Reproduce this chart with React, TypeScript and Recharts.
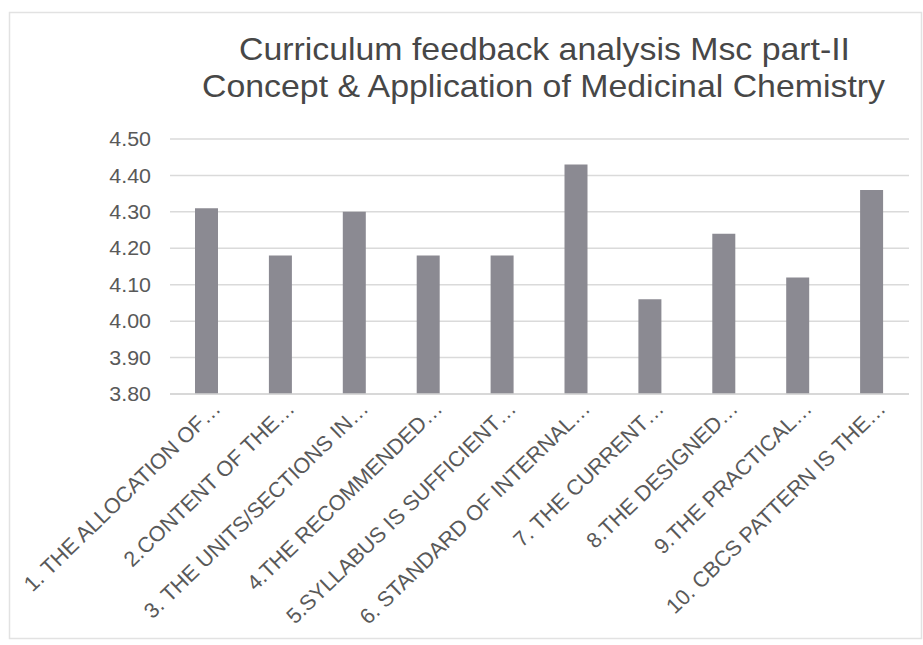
import React from 'react';
import { BarChart, Bar, XAxis, YAxis, CartesianGrid } from 'recharts';

const categories = [
  '1. THE ALLOCATION OF…',
  '2.CONTENT OF THE…',
  '3. THE UNITS/SECTIONS IN…',
  '4.THE RECOMMENDED…',
  '5.SYLLABUS IS SUFFICIENT…',
  '6. STANDARD OF INTERNAL…',
  '7. THE CURRENT…',
  '8.THE DESIGNED…',
  '9.THE PRACTICAL…',
  '10. CBCS PATTERN IS THE…',
];
const scores = [4.31, 4.18, 4.3, 4.18, 4.18, 4.43, 4.06, 4.24, 4.12, 4.36];
const yTicks = [3.8, 3.9, 4.0, 4.1, 4.2, 4.3, 4.4, 4.5];
const titleLines = [
  'Curriculum feedback analysis Msc part-II',
  'Concept & Application of Medicinal Chemistry',
];

const data = categories.map((name, i) => ({ name, value: scores[i] }));

const FONT = '"Liberation Sans", Arial, sans-serif';

const XTick = (props: any) => {
  const { x, y, payload } = props;
  return (
    <g transform={`translate(${x + 15},${y + 14})`}>
      <text
        transform="rotate(-44)"
        textAnchor="end"
        fontFamily={FONT}
        fontSize={21.5}
        fill="#595959"
      >
        {payload.value}
      </text>
    </g>
  );
};

const YTick = (props: any) => {
  const { y, payload } = props;
  return (
    <text
      transform={`translate(151,${y}) scale(1.07,1)`}
      textAnchor="end"
      dy="0.36em"
      fontFamily={FONT}
      fontSize={20}
      fill="#595959"
    >
      {Number(payload.value).toFixed(2)}
    </text>
  );
};

export default function App() {
  return (
    <div style={{ position: 'absolute', left: 0, top: 0, width: 923, height: 645, background: '#fff' }}>
      <BarChart
        width={923}
        height={645}
        data={data}
        margin={{ top: 139, right: 14, bottom: 11, left: 0 }}
      >
        <CartesianGrid vertical={false} stroke="#dadada" strokeWidth={1.5} />
        <YAxis
          domain={[3.8, 4.5]}
          ticks={yTicks}
          width={170}
          axisLine={false}
          tickLine={false}
          tickSize={0}
          tick={<YTick />}
          allowDataOverflow
        />
        <XAxis
          dataKey="name"
          height={240}
          interval={0}
          tickLine={false}
          tickSize={0}
          axisLine={{ stroke: '#d5d5d5', strokeWidth: 1.5 }}
          tick={<XTick />}
        />
        <Bar dataKey="value" fill="#8b8a92" barSize={23} isAnimationActive={false} />
      </BarChart>
      <svg
        width={923}
        height={645}
        style={{ position: 'absolute', left: 0, top: 0, pointerEvents: 'none' }}
      >
        <rect x={9.5} y={12.5} width={912} height={626} fill="none" stroke="#e2e2e2" strokeWidth={1.5} />
        <text
          x={239}
          y={60}
          textLength={611}
          lengthAdjust="spacingAndGlyphs"
          fontFamily={FONT}
          fontSize={32}
          fill="#474747"
        >
          {titleLines[0]}
        </text>
        <text
          x={202}
          y={97}
          textLength={683}
          lengthAdjust="spacingAndGlyphs"
          fontFamily={FONT}
          fontSize={32}
          fill="#474747"
        >
          {titleLines[1]}
        </text>
      </svg>
    </div>
  );
}
